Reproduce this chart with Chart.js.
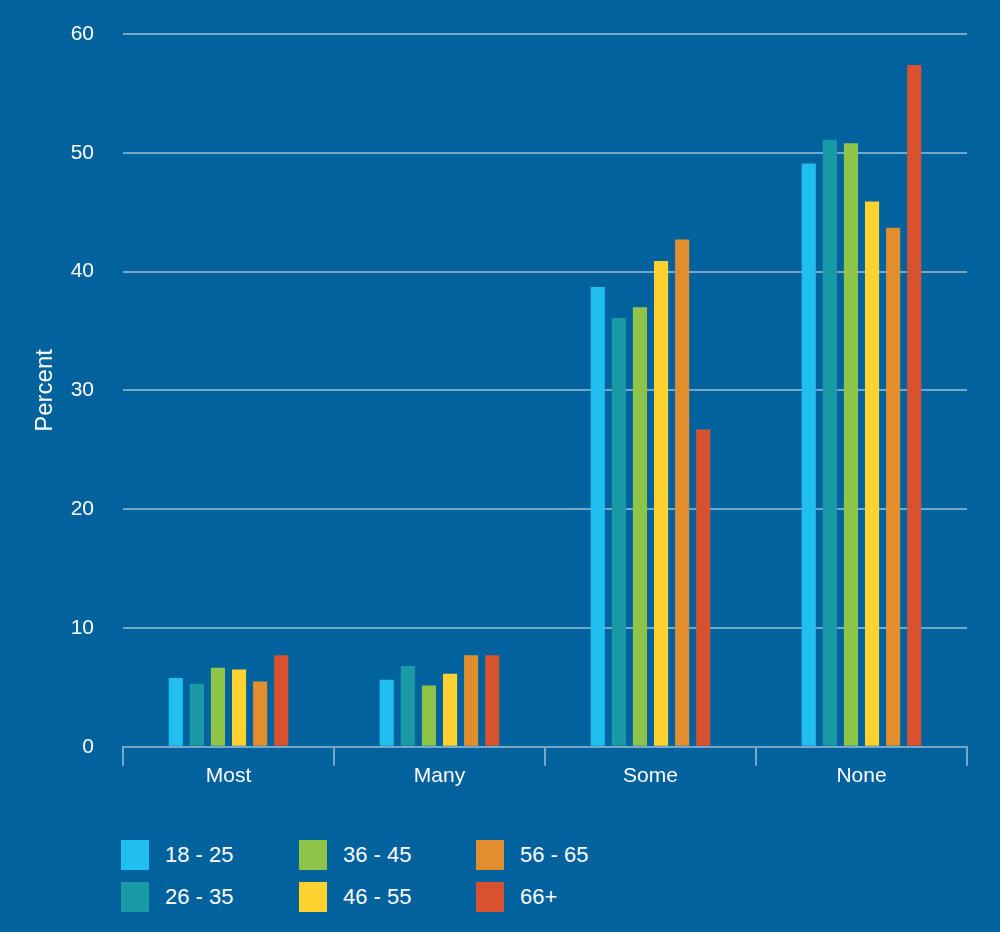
<!DOCTYPE html>
<html>
<head>
<meta charset="utf-8">
<script src="https://cdn.jsdelivr.net/npm/chart.js@4.4.1/dist/chart.umd.min.js"></script>
<style>
  html, body { margin: 0; padding: 0; background: #02629e; }
  #wrap { position: relative; width: 1000px; height: 932px; }
  #chart_box { position: absolute; left: 0; top: 0; width: 1000px; height: 800px; }
  #legend { position: absolute; left: 121px; top: 840px; display: grid;
            grid-template-columns: 178px 177px 178px; grid-auto-flow: column;
            grid-template-rows: 42px 42px; font-family: "Liberation Sans", Arial, sans-serif;
            font-size: 22px; color: #fff; }
  .item { display: flex; align-items: center; height: 30px; }
  .swatch { width: 28px; height: 30px; margin-right: 16px; }
</style>
</head>
<body>
<div id="wrap">
  <div id="chart_box"><canvas id="answers_chart"></canvas></div>
  <div id="legend"></div>
</div>
<script>
// data
const categories = ["Most", "Many", "Some", "None"];
const age_groups = ["18 - 25", "26 - 35", "36 - 45", "46 - 55", "56 - 65", "66+"];
const age_colors = ["#21bef0", "#1a9aa7", "#8ec548", "#ffd22f", "#e18f2e", "#d85230"];
const values_18_25 = [5.8, 5.65, 38.7, 49.1];
const values_26_35 = [5.3, 6.8, 36.1, 51.1];
const values_36_45 = [6.65, 5.15, 37.0, 50.8];
const values_46_55 = [6.5, 6.15, 40.9, 45.9];
const values_56_65 = [5.5, 7.7, 42.7, 43.7];
const values_66_plus = [7.7, 7.7, 26.7, 57.4];
const y_ticks = [0, 10, 20, 30, 40, 50, 60];

const series = [values_18_25, values_26_35, values_36_45, values_46_55, values_56_65, values_66_plus];
const line_color = "rgba(255, 255, 255, 0.45)";
const font_family = "'Liberation Sans', Arial, sans-serif";

const answers_chart = new Chart("answers_chart", {
    type: "bar",
    data: {
        labels: categories,
        datasets: series.map((values, i) => ({
            label: age_groups[i],
            data: values,
            backgroundColor: age_colors[i],
            borderWidth: 0,
            categoryPercentage: 0.6,
            barPercentage: 0.67
        }))
    },
    options: {
        animation: false,
        responsive: true,
        maintainAspectRatio: false,
        events: [],
        layout: { padding: { left: 31, right: 33, top: 34, bottom: 13 } },
        plugins: {
            legend: { display: false },
            tooltip: { enabled: false }
        },
        scales: {
            x: {
                grid: {
                    display: true,
                    drawOnChartArea: false,
                    color: line_color,
                    lineWidth: 2,
                    tickLength: 19
                },
                border: { display: true, color: line_color, width: 2 },
                ticks: {
                    color: "#ffffff",
                    padding: -2,
                    font: { family: font_family, size: 21 }
                }
            },
            y: {
                min: 0,
                max: 60,
                afterBuildTicks: (axis) => { axis.ticks = y_ticks.map(v => ({ value: v })); },
                afterFit: (axis) => {
                    axis.width = 92;
                    axis.paddingTop = 0;
                    axis.paddingBottom = 0;
                },
                grid: {
                    color: (ctx) => ctx.tick && ctx.tick.value === 0 ? "rgba(0,0,0,0)" : line_color,
                    lineWidth: 2,
                    drawTicks: false
                },
                border: { display: false },
                title: {
                    display: true,
                    text: "Percent",
                    color: "#ffffff",
                    padding: 0,
                    font: { family: font_family, size: 24 }
                },
                ticks: {
                    color: "#ffffff",
                    padding: 29,
                    font: { family: font_family, size: 21 }
                }
            }
        }
    }
});

// legend, filled column by column
const legend_box = document.getElementById("legend");
age_groups.forEach((name, i) => {
    const item = document.createElement("div");
    item.className = "item";
    item.innerHTML = '<div class="swatch" style="background:' + age_colors[i] + '"></div>' + name;
    legend_box.appendChild(item);
});
</script>
</body>
</html>
